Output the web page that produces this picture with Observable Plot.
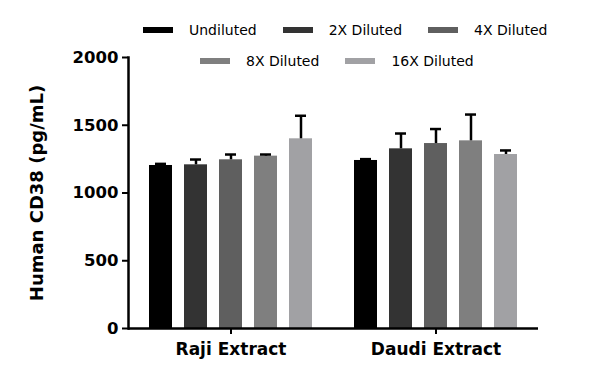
<!DOCTYPE html>
<html>
<head>
<meta charset="utf-8">
<script src="https://cdn.jsdelivr.net/npm/d3@7"></script>
<script src="https://cdn.jsdelivr.net/npm/@observablehq/plot@0.6"></script>
<style>
  html, body { margin: 0; padding: 0; background: white; }
  #wrap { position: relative; width: 600px; height: 386px; font-family: "DejaVu Sans", sans-serif; }
  #legend { position: absolute; left: 0; top: 0; width: 600px; font-size: 14px; color: #000; }
  .row { position: absolute; display: flex; align-items: center; height: 16px; }
  .item { display: flex; align-items: center; margin-right: 26px; }
  .sw { width: 30px; height: 6px; margin-right: 16px; }
</style>
</head>
<body>
<div id="wrap">
  <div id="chart"></div>
  <div id="legend"></div>
</div>
<script>
const groups = ["Raji Extract", "Daudi Extract"];
const dilutions = ["Undiluted", "2X Diluted", "4X Diluted", "8X Diluted", "16X Diluted"];
const colors = ["#000000", "#333333", "#5f5f5f", "#7f7f7f", "#a1a1a4"];
const rajiMean = [1203, 1208, 1245, 1272, 1400];
const rajiSD = [12, 39, 39, 12, 170];
const daudiMean = [1240, 1326, 1365, 1385, 1284];
const daudiSD = [10, 113, 107, 194, 30];
const yTicks = [0, 500, 1000, 1500, 2000];
const yLabel = "Human CD38 (pg/mL)";

const rows = [];
dilutions.forEach((d, i) => rows.push({group: groups[0], dilution: d, mean: rajiMean[i], sd: rajiSD[i]}));
dilutions.forEach((d, i) => rows.push({group: groups[1], dilution: d, mean: daudiMean[i], sd: daudiSD[i]}));

const chart = Plot.plot({
  width: 600,
  height: 386,
  marginTop: 57,
  marginBottom: 58,
  marginLeft: 128,
  marginRight: 62,
  style: {fontFamily: "DejaVu Sans, sans-serif", background: "white", color: "black", overflow: "visible"},
  fx: {domain: groups, padding: 0},
  x: {domain: dilutions, paddingInner: 1/3, paddingOuter: 0.514, axis: null},
  y: {domain: [0, 2000]},
  color: {domain: dilutions, range: colors},
  marks: [
    Plot.barY(rows, {fx: "group", x: "dilution", y: "mean", fill: "dilution"}),
    Plot.ruleX(rows, {fx: "group", x: "dilution", y1: "mean", y2: d => d.mean + d.sd, stroke: "black", strokeWidth: 2.5}),
    Plot.tickY(rows, {fx: "group", x: "dilution", y: d => d.mean + d.sd, stroke: "black", strokeWidth: 2.5, insetLeft: 6, insetRight: 6}),
    Plot.ruleY([0], {stroke: "black", strokeWidth: 2.5}),
    Plot.frame({anchor: "left", facetAnchor: "left", stroke: "black", strokeWidth: 2.5}),
    Plot.axisY({ticks: yTicks, tickFormat: d => String(d), tickSize: 6, tickPadding: 4, fontSize: 16.5, fontWeight: "bold", strokeWidth: 2, label: null}),
    Plot.axisY({ticks: [], tickSize: 0, label: yLabel, labelArrow: "none", labelAnchor: "center", labelOffset: 98, fontSize: 18, fontWeight: "bold"}),
    Plot.axisFx({anchor: "bottom", tickSize: 6, tickPadding: 8, fontSize: 17, fontWeight: "bold", strokeWidth: 2, label: null})
  ]
});
document.getElementById("chart").appendChild(chart);

// Legend
const legend = document.getElementById("legend");
const legendRows = [[0, 1, 2], [3, 4]];
const rowLefts = [143, 200];
const rowTops = [22, 53];
legendRows.forEach((idxs, r) => {
  const row = document.createElement("div");
  row.className = "row";
  row.style.left = rowLefts[r] + "px";
  row.style.top = rowTops[r] + "px";
  idxs.forEach(i => {
    const item = document.createElement("div");
    item.className = "item";
    const sw = document.createElement("div");
    sw.className = "sw";
    sw.style.background = colors[i];
    const t = document.createElement("span");
    t.textContent = dilutions[i];
    item.appendChild(sw);
    item.appendChild(t);
    row.appendChild(item);
  });
  legend.appendChild(row);
});
</script>
</body>
</html>
